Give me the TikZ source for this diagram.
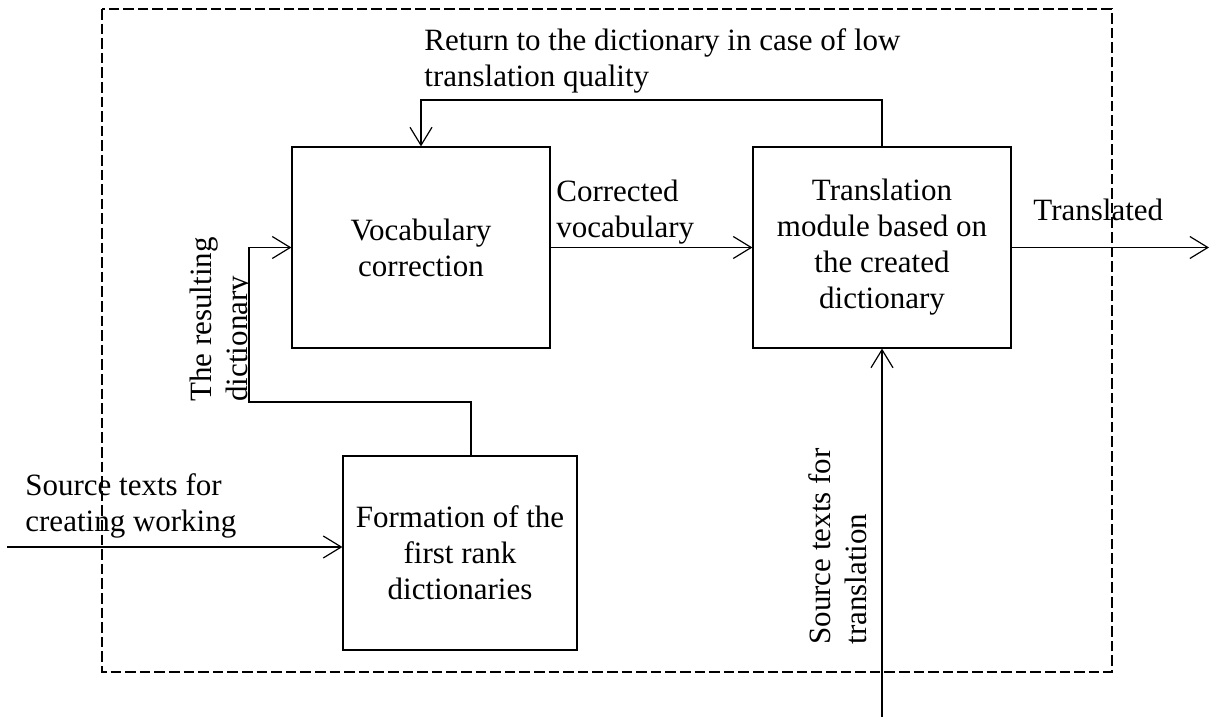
\documentclass[tikz,border=0pt]{standalone}
\usepackage{fontspec}
\setmainfont{Liberation Serif}
\usetikzlibrary{arrows.meta}
\begin{document}
\begin{tikzpicture}[x=0.5pt,y=-0.5pt,
  box/.style={draw, line width=0.6pt, inner sep=0pt, align=center,
              font=\fontsize{15.5pt}{18pt}\selectfont},
  lbl/.style={font=\fontsize{15.5pt}{18pt}\selectfont, inner sep=0pt, align=left},
  conn/.style={line width=0.9pt},
  arr/.style={conn, -{Straight Barb[length=9pt,width=11pt,line width=0.6pt]}},
  frame/.style={line width=0.6pt, dash pattern=on 5.3pt off 2pt}
]
\useasboundingbox (0,0) rectangle (1211,717);

% outer dashed frame
\draw[frame] (102,9) rectangle (1112,672);

% boxes
\node[box, minimum width=129pt, minimum height=100.5pt] (vocab) at (421,247.5) {Vocabulary\\correction};
\node[box, minimum width=129pt, minimum height=100.5pt] (trans) at (882,247.5) {Translation\\module based on\\the created\\dictionary};
\node[box, minimum width=117pt, minimum height=97pt] (form) at (460,553) {Formation of the\\first rank\\dictionaries};

% coordinates
\coordinate (fbtop) at (0,100);
\coordinate (outend) at (1209,247.5);
\coordinate (srcin) at (882,717);
\coordinate (leftin) at (7,547);
\coordinate (c1) at (471,402);
\coordinate (c2) at (249,402);
\coordinate (c3) at (249,247.5);

% connectors
\draw[arr] (trans.north) -- (trans.north |- fbtop) -| (vocab.north);
\draw[arr] (vocab.east) -- (trans.west);
\draw[arr] (trans.east) -- (outend);
\draw[arr] (srcin) -- (trans.south);
\draw[arr] (leftin) -- (form.west |- leftin);
\draw[arr] (form.north -| c1) -- (c1) -- (c2) -- (c3) -- (vocab.west);

% labels
\node[lbl, anchor=west] (ret) at (424,61) {Return to the dictionary in case of low\\translation quality};
\node[lbl, anchor=west] (corr) at (556,212) {Corrected\\vocabulary};
\node[lbl, anchor=west] (transd) at (1033,210) {Translated};
\node[lbl, anchor=west] (srcw) at (25,506) {Source texts for\\creating working};

\begin{scope}
\clip (150,200) rectangle (248,420);
\node[lbl, rotate=90, anchor=north west] (reslbl) at (190,402) {The resulting\\dictionary};
\end{scope}
\begin{scope}
\clip (780,420) rectangle (866,700);
\node[lbl, rotate=90, anchor=north west] (srct) at (808,645) {Source texts for\\translation};
\end{scope}
\end{tikzpicture}
\end{document}
